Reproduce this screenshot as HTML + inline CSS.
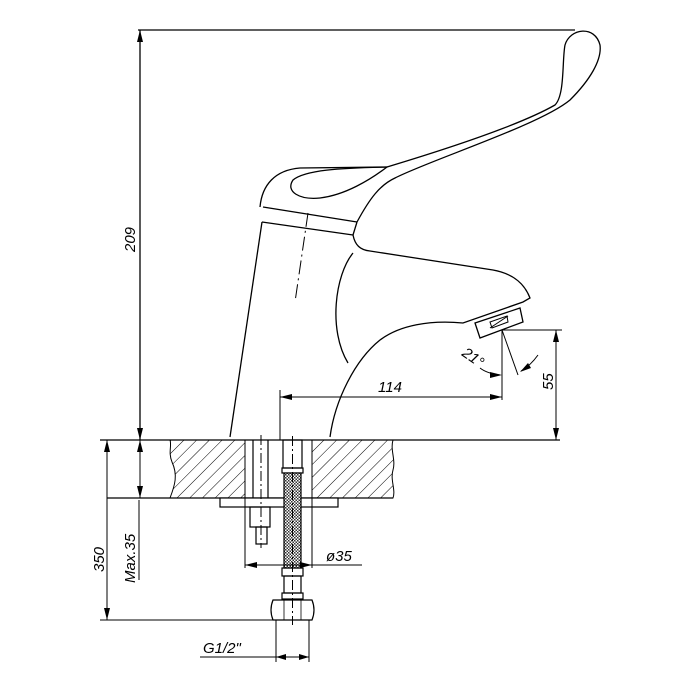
<!DOCTYPE html>
<html><head><meta charset="utf-8"><style>
html,body{margin:0;padding:0;background:#fff;}
svg{display:block}
text{font-family:"Liberation Sans",sans-serif;font-style:italic;font-size:15px;fill:#000}
</style></head><body>
<svg width="700" height="700" viewBox="0 0 700 700" xmlns="http://www.w3.org/2000/svg">
<defs>
<pattern id="h" patternUnits="userSpaceOnUse" width="9" height="9" patternTransform="rotate(45)">
<line x1="0" y1="0" x2="0" y2="9" stroke="#000" stroke-width="1"/>
</pattern>
<pattern id="m" patternUnits="userSpaceOnUse" width="3" height="3">
<rect width="3" height="3" fill="#fff"/><rect width="1.5" height="1.5" fill="#333"/><rect x="1.5" y="1.5" width="1.5" height="1.5" fill="#333"/>
</pattern>
</defs>
<g fill="none" stroke="#000" stroke-width="1.3">
<!-- top dim line -->
<line x1="138" y1="30" x2="575" y2="30"/>
<!-- 209 -->
<line x1="140" y1="30" x2="140" y2="440"/>
<!-- handle -->
<path d="M260,207 C262,185 275,170 300,168 L387,167 C450,148 520,125 555,105 C565,95 562,60 565,45 C570,28 595,25 600,45 C602,60 590,80 570,100 C540,125 430,160 395,178 C380,185 370,198 357,222"/>
<path d="M293,180 C305,170 340,168 387,167 C370,180 345,195 320,198 C300,200 285,192 293,180 Z"/>
<!-- cap band -->
<line x1="263" y1="207" x2="357" y2="222"/>
<line x1="262" y1="222" x2="353" y2="235"/>
<line x1="357" y1="222" x2="353" y2="235"/>
<!-- body -->
<path d="M262,222 L230,437"/>
<path d="M353,235 C355,245 360,250 370,251 L493,270 C515,274 525,285 530,298 L523,302 L463,323 C430,320 400,325 380,340 C355,360 335,400 330,437"/>
<path d="M353,253 C335,275 328,330 348,363"/>
<!-- aerator -->
<path d="M475,323 L520,308 L523,322 L480,338 Z"/>
<path d="M490,322 L507,316 L508,322 L492,328 Z" stroke-width="1"/>
<line x1="490" y1="328" x2="508" y2="316" stroke-width="1"/>
<!-- center dash -->
<line x1="308" y1="213" x2="295" y2="302" stroke-dasharray="14,4,2,4" stroke-width="1"/>
<!-- 55 -->
<line x1="502" y1="330" x2="562" y2="330" stroke-width="1"/>
<line x1="556" y1="330" x2="556" y2="440" stroke-width="1"/>
<!-- 114 -->
<line x1="502" y1="330" x2="502" y2="400" stroke-width="1"/>
<line x1="280" y1="397" x2="502" y2="397" stroke-width="1"/>
<line x1="280" y1="390" x2="280" y2="440" stroke-width="1"/>
<!-- 21 deg -->
<line x1="502" y1="330" x2="518" y2="375" stroke-width="1"/>
<path d="M480,368 C485,372 492,374 500,375" stroke-width="1"/>
<path d="M538,355 C533,362 528,367 521,371" stroke-width="1"/>
<!-- surface -->
<line x1="100" y1="440" x2="560" y2="440"/>
</g>
<!-- counter hatch -->
<path d="M170,440 L245,440 L245,498 L170,498 C175,485 178,475 172,462 C168,452 172,446 170,440 Z" fill="url(#h)" stroke="#000" stroke-width="1"/>
<path d="M312,440 L393,440 C390,450 396,460 393,470 C390,480 396,490 393,498 L312,498 Z" fill="url(#h)" stroke="#000" stroke-width="1"/>
<g fill="none" stroke="#000" stroke-width="1.2">
<line x1="107" y1="498" x2="393" y2="498"/>
<rect x="220" y="498" width="118" height="9" fill="#fff"/>
<line x1="253" y1="440" x2="253" y2="498"/>
<line x1="268" y1="440" x2="268" y2="498"/>
<line x1="261" y1="435" x2="261" y2="548" stroke-dasharray="10,3,2,3" stroke-width="1"/>
<rect x="250" y="507" width="20" height="20"/>
<rect x="256" y="527" width="11" height="17"/>
<!-- hose -->
<rect x="283" y="440" width="19" height="28"/>
<rect x="282" y="468" width="21" height="5"/>
<rect x="284" y="473" width="17" height="95" fill="url(#m)"/>
<rect x="282" y="568" width="21" height="8"/>
<rect x="284" y="576" width="17" height="17"/>
<rect x="282" y="593" width="21" height="6"/>
<path d="M273,600 L312,600 Q316,610 312,620 L273,620 Q269,610 273,600 Z"/>
<line x1="284" y1="600" x2="284" y2="620" stroke-width="0.8"/>
<line x1="301" y1="600" x2="301" y2="620" stroke-width="0.8"/>
<line x1="292.5" y1="436" x2="292.5" y2="625" stroke-dasharray="10,3,2,3" stroke-width="1"/>
<!-- dims bottom -->
<line x1="245" y1="498" x2="245" y2="568" stroke-width="1"/>
<line x1="312" y1="498" x2="312" y2="568" stroke-width="1"/>
<line x1="245" y1="565" x2="362" y2="565" stroke-width="1"/>
<line x1="107" y1="440" x2="107" y2="620" stroke-width="1"/>
<line x1="100" y1="620" x2="273" y2="620" stroke-width="1"/>
<line x1="140" y1="440" x2="140" y2="498" stroke-width="1"/>
<line x1="276" y1="620" x2="276" y2="662" stroke-width="1"/>
<line x1="309" y1="620" x2="309" y2="662" stroke-width="1"/>
<line x1="200" y1="657" x2="309" y2="657" stroke-width="1"/>
<line x1="139" y1="500" x2="139" y2="580" stroke-width="1"/>
</g>
<!-- arrows -->
<g fill="#000">
<path d="M140,30 l-3,12 l6,0 z"/>
<path d="M140,440 l-3,-12 l6,0 z"/>
<path d="M556,330 l-3,12 l6,0 z"/>
<path d="M556,440 l-3,-12 l6,0 z"/>
<path d="M280,397 l12,-3 l0,6 z"/>
<path d="M502,397 l-12,-3 l0,6 z"/>
<path d="M502,375 l-12,-3 l0,6 z"/>
<path d="M520,372 l8,-9 l3,5 z"/>
<path d="M245,565 l12,-3 l0,6 z"/>
<path d="M312,565 l-12,-3 l0,6 z"/>
<path d="M107,440 l-3,12 l6,0 z"/>
<path d="M107,620 l-3,-12 l6,0 z"/>
<path d="M140,440 l-3,12 l6,0 z"/>
<path d="M140,498 l-3,-12 l6,0 z"/>
<path d="M276,657 l10,-3 l0,6 z"/>
<path d="M309,657 l-10,-3 l0,6 z"/>
</g>
<text transform="translate(135,252) rotate(-90)">209</text>
<text x="378" y="392">114</text>
<text transform="translate(553,390) rotate(-90)">55</text>
<text transform="translate(461,355) rotate(35)">21°</text>
<text x="326" y="561">ø35</text>
<text transform="translate(104,572) rotate(-90)">350</text>
<text transform="translate(135,583) rotate(-90)">Max.35</text>
<text x="203" y="653">G1/2"</text>
</svg>
</body></html>
